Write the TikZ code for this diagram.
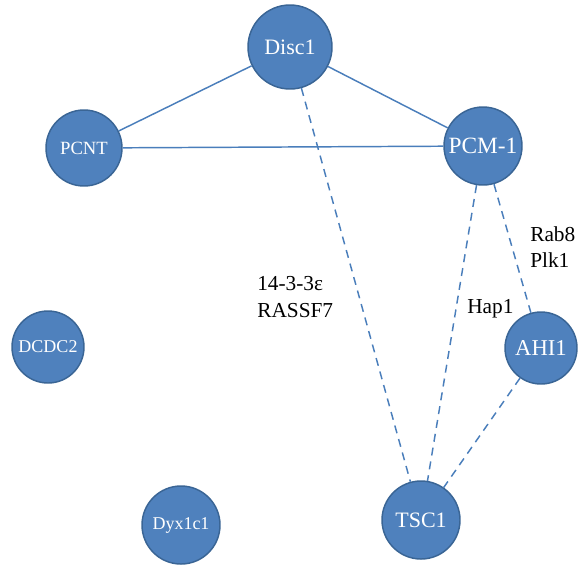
\documentclass[tikz,border=0pt]{standalone}
\usepackage{fontspec}
\setmainfont{Liberation Serif}
\begin{document}
\begin{tikzpicture}[x=0.75pt,y=-0.75pt,
  gene/.style={circle, fill=nodefill, draw=nodeborder, line width=1.1pt, text=white, inner sep=0pt},
  solidlink/.style={draw=linkcol, line width=1.1pt},
  dashlink/.style={draw=linkcol, line width=1.1pt, dash pattern=on 6pt off 4.5pt},
  lbl/.style={font=\fontsize{16}{20}\selectfont, align=left, inner sep=0pt}]
\definecolor{nodefill}{HTML}{4F81BD}
\definecolor{nodeborder}{HTML}{3A6595}
\definecolor{linkcol}{HTML}{4A7EBB}
\useasboundingbox (0,0) rectangle (580,565);
\node[gene, minimum size=84*0.75pt, font=\fontsize{16.5}{18}\selectfont] (disc) at (290,47) {Disc1};
\node[gene, minimum size=76*0.75pt, font=\fontsize{14}{16}\selectfont] (pcnt) at (84,148) {PCNT};
\node[gene, minimum size=78*0.75pt, font=\fontsize{17.5}{18}\selectfont] (pcm) at (483,146) {PCM-1};
\node[gene, minimum size=72*0.75pt, font=\fontsize{13.5}{16}\selectfont] (dcdc) at (48,347) {DCDC2};
\node[gene, minimum size=72*0.75pt, font=\fontsize{17}{18}\selectfont] (ahi) at (541,348) {AHI1};
\node[gene, minimum size=78*0.75pt, font=\fontsize{13.5}{16}\selectfont] (dyx) at (181,525) {Dyx1c1};
\node[gene, minimum size=78*0.75pt, font=\fontsize{16.5}{18}\selectfont] (tsc) at (421,520) {TSC1};
\draw[solidlink] (disc) -- (pcnt);
\draw[solidlink] (disc) -- (pcm);
\draw[solidlink] (pcnt) -- (pcm);
\draw[dashlink] (disc) -- (tsc);
\draw[dashlink] (pcm) -- (tsc);
\draw[dashlink] (pcm) -- (ahi);
\draw[dashlink] (ahi) -- (tsc);
\node[lbl, anchor=west] (l1) at (257,297) {14-3-3ε\\RASSF7};
\node[lbl, anchor=west] (l2) at (467,309) {Hap1};
\node[lbl, anchor=west] (l3) at (530,247) {Rab8\\Plk1};
\end{tikzpicture}
\end{document}
